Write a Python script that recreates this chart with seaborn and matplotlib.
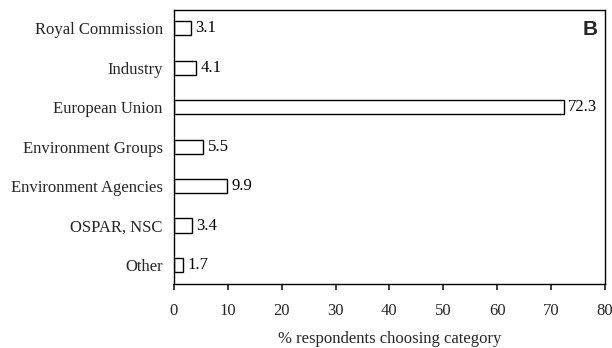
import matplotlib
matplotlib.use("Agg")
import matplotlib.pyplot as plt
import seaborn as sns
import pandas as pd

categories = ["Royal Commission", "Industry", "European Union", "Environment Groups",
              "Environment Agencies", "OSPAR, NSC", "Other"]
values = [3.1, 4.1, 72.3, 5.5, 9.9, 3.4, 1.7]
xticks = [0, 10, 20, 30, 40, 50, 60, 70, 80]

sns.set_theme(style="ticks")
plt.rcParams['font.family'] = ['Liberation Serif', 'DejaVu Serif']

df = pd.DataFrame({"category": categories, "value": values})

fig = plt.figure(figsize=(6.12, 3.48), dpi=100)
ax = fig.add_axes([0.284, 0.184, 0.7046, 0.787])
sns.barplot(data=df, x="value", y="category", orient="h", color="white",
            edgecolor="black", linewidth=1.0, width=0.36, ax=ax, saturation=1)

for i, v in enumerate(values):
    ax.text(v + 0.8, i, f"{v}", va="center", ha="left", fontsize=12, color="black")

ax.set_xlim(0, 80)
ax.set_ylim(6.48, -0.46)
ax.set_xticks(xticks)
ax.set_xticklabels([str(t) for t in xticks], fontsize=12)
ax.tick_params(axis="y", length=0, labelsize=12, pad=8)
ax.tick_params(axis="x", length=4, direction="out", pad=10)
ax.set_ylabel("")
ax.set_xlabel("% respondents choosing category", fontsize=12, labelpad=8)
for s in ax.spines.values():
    s.set_color("black")
    s.set_linewidth(1.0)
ax.text(0.982, 0.965, "B", transform=ax.transAxes, ha="right", va="top",
        fontsize=15, fontweight="bold", family="Liberation Sans")
fig.savefig("out.png", dpi=100)
